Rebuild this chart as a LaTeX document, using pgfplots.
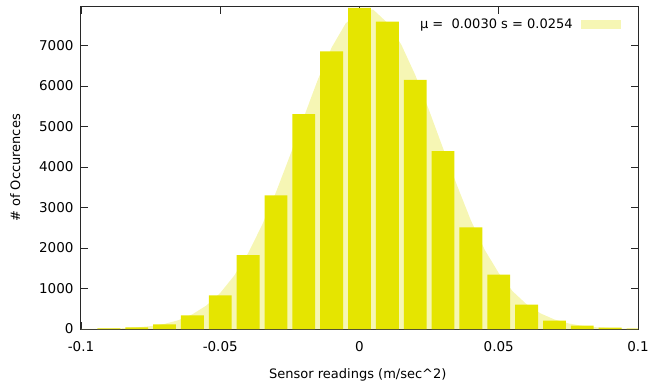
\documentclass[border=0pt]{standalone}
\usepackage{fontspec}
\setmainfont{DejaVu Sans}
\usepackage{pgfplots}
\pgfplotsset{compat=1.18}
\definecolor{barY}{RGB}{229,229,0}
\definecolor{lightY}{RGB}{246,246,180}
\definecolor{axisgray}{RGB}{40,40,40}
\newcommand{\tickfont}{\fontsize{13.5bp}{16bp}\selectfont}
\newcommand{\chartfont}{\fontsize{13bp}{15.5bp}\selectfont}
\begin{document}
\begin{tikzpicture}[font=\chartfont]
\useasboundingbox (-81bp,-60bp) rectangle (569bp,329bp);
\begin{axis}[
  at={(0,0)}, anchor=south west,
  scale only axis, width=557bp, height=322bp,
  xmin=-0.1, xmax=0.1, ymin=0, ymax=7950,
  xtick={-0.1,-0.05,0,0.05,0.1},
  xticklabels={-0.1,-0.05,0,0.05,0.1},
  ytick={0,1000,2000,3000,4000,5000,6000,7000},
  /pgf/number format/fixed,
  /pgf/number format/1000 sep={},
  /pgf/number format/assume math mode=true,
  tick label style={font=\tickfont},
  label style={font=\chartfont},
  tick align=inside, tick pos=both, major tick length=7bp,
  axis line style={axisgray, line width=1bp},
  every tick/.style={axisgray, line width=0.8bp},
  scaled y ticks=false,
  xticklabel style={yshift=-9bp},
  yticklabel style={xshift=-4bp},
  xlabel={Sensor readings (m/sec\textasciicircum 2)},
  ylabel={\# of Occurences},
  xlabel style={at={(axis description cs:0.497,-0.143)}, anchor=center},
  ylabel style={at={(axis description cs:-0.118,0.5)}, anchor=center},
  legend plot pos=right,
  legend style={draw=none, fill=none, at={(0.9745,0.977)}, anchor=north east, font=\chartfont},
  legend image code/.code={\path (0bp,0bp); \fill[lightY] (6bp,-4.5bp) rectangle (46bp,4.5bp);},
  clip=true,
]
\addplot[fill=lightY, draw=none] coordinates {
(-0.100,2) (-0.095,5) (-0.090,10) (-0.085,19) (-0.080,38) (-0.075,70)
(-0.070,126) (-0.065,218) (-0.060,363) (-0.055,579) (-0.050,890)
(-0.045,1316) (-0.040,1873) (-0.035,2564) (-0.030,3376) (-0.025,4275)
(-0.020,5230) (-0.015,6150) (-0.010,6950) (-0.005,7540) (0.000,7860)
(0.003,7900) (0.005,7880) (0.010,7560) (0.015,7021) (0.020,6275)
(0.025,5395) (0.030,4462) (0.035,3549) (0.040,2680) (0.045,1950)
(0.050,1380) (0.055,930) (0.060,610) (0.065,385) (0.070,235)
(0.075,138) (0.080,78) (0.085,43) (0.090,22) (0.095,11) (0.100,5)
} \closedcycle;
\addlegendentry{μ =\ \ 0.0030 s = 0.0254}
\addplot[ybar, bar width=0.0082, fill=barY, draw=none, forget plot] coordinates {
(-0.09,15) (-0.08,40) (-0.07,115) (-0.06,337) (-0.05,832) (-0.04,1823)
(-0.03,3302) (-0.02,5308) (-0.01,6852) (0.00,7927) (0.01,7587)
(0.02,6151) (0.03,4392) (0.04,2509) (0.05,1345) (0.06,602)
(0.07,206) (0.08,82) (0.09,32) (0.10,10)
};
\end{axis}
\end{tikzpicture}
\end{document}
